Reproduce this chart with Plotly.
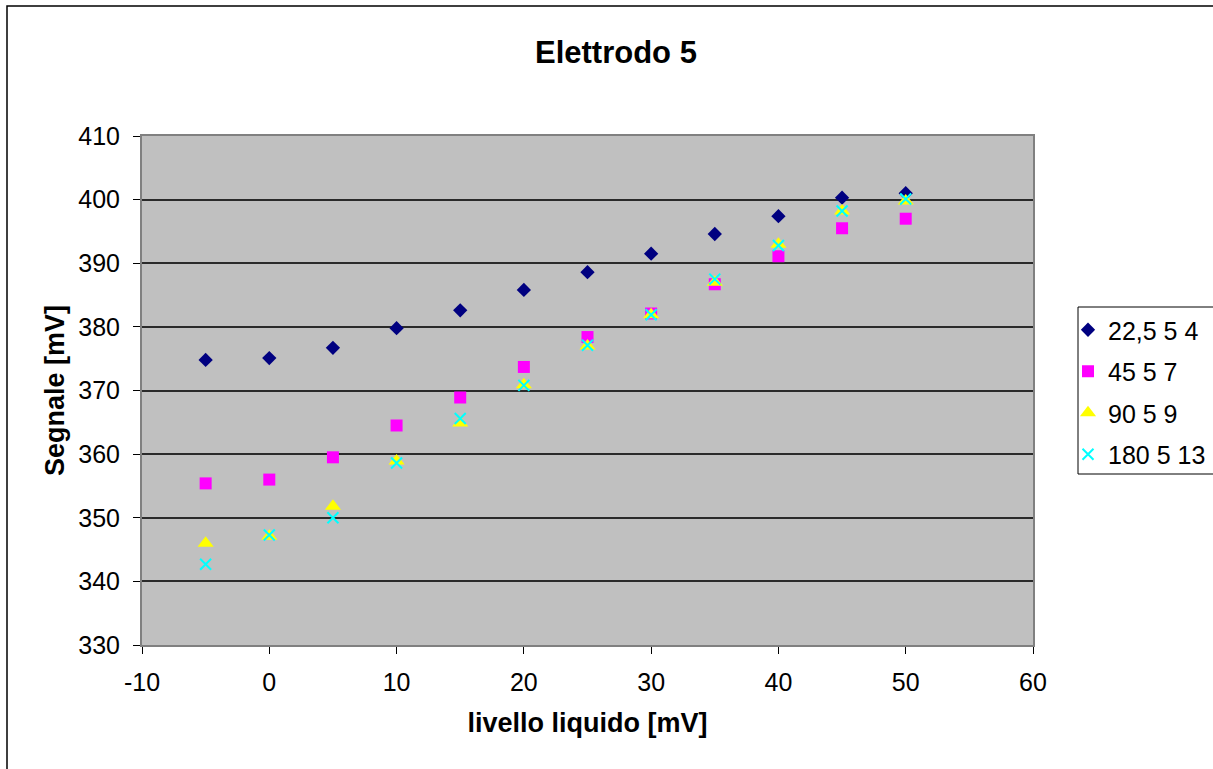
import plotly.graph_objects as go

x_vals = [-5, 0, 5, 10, 15, 20, 25, 30, 35, 40, 45, 50]
s1_name = "22,5 5 4"
s1 = [374.8, 375.1, 376.7, 379.8, 382.6, 385.8, 388.6, 391.5, 394.6, 397.4, 400.3, 401.0]
s2_name = "45 5 7"
s2 = [355.4, 356.0, 359.5, 364.5, 368.9, 373.7, 378.4, 382.1, 386.7, 391.1, 395.5, 397.0]
s3_name = "90 5 9"
s3 = [346.0, 347.1, 351.8, 358.9, 364.9, 370.9, 377.0, 381.9, 387.0, 393.0, 398.2, 399.8]
s4_name = "180 5 13"
s4 = [342.7, 347.3, 350.0, 358.6, 365.6, 370.8, 377.1, 381.9, 387.5, 392.8, 398.2, 400.1]

x_ticks = [-10, 0, 10, 20, 30, 40, 50, 60]
x_tick_labels = ["-10", "0", "10", "20", "30", "40", "50", "60"]
y_ticks = [330, 340, 350, 360, 370, 380, 390, 400, 410]

W, H = 1213, 769
L, R, T, B = 142, 1033, 136, 645

fig = go.Figure()
fig.add_trace(go.Scatter(x=x_vals, y=s1, mode="markers", name=s1_name, legendgroup="a",
                         marker=dict(symbol="diamond", size=11, color="#000080")))
fig.add_trace(go.Scatter(x=x_vals, y=s2, mode="markers", name=s2_name, legendgroup="b",
                         marker=dict(symbol="square", size=12, color="#FF00FF")))
fig.add_trace(go.Scatter(x=x_vals, y=s3, mode="markers", name=s3_name, legendgroup="c",
                         marker=dict(symbol="triangle-up", size=14, color="#FFFF00")))
fig.add_trace(go.Scatter(x=x_vals, y=s4, mode="markers", name=s4_name, legendgroup="d",
                         marker=dict(symbol="x-thin", size=11, color="#00FFFF",
                                     line=dict(color="#00FFFF", width=2))))

def px_x(p):
    return (p - L) / (R - L)

def px_y(p):
    return (B - p) / (B - T)

# outer chart border
fig.add_shape(type="rect", xref="paper", yref="paper",
              x0=px_x(7), x1=px_x(1240), y0=px_y(6), y1=px_y(800),
              line=dict(color="black", width=1.5), fillcolor="rgba(0,0,0,0)", layer="below")
# legend frame
fig.add_shape(type="rect", xref="paper", yref="paper",
              x0=px_x(1078), x1=px_x(1240), y0=px_y(307), y1=px_y(474),
              line=dict(color="black", width=1), fillcolor="white", layer="below")

font = "Liberation Sans, Arial, sans-serif"
fig.add_annotation(text="<b>Elettrodo 5</b>", xref="paper", yref="paper",
                   x=px_x(616), y=px_y(52), xanchor="center", yanchor="middle",
                   showarrow=False,
                   font=dict(family=font, size=31, color="black"))

fig.update_layout(
    width=W, height=H,
    margin=dict(l=L, r=W - R, t=T, b=H - B, autoexpand=False),
    paper_bgcolor="white",
    plot_bgcolor="#C0C0C0",
    font=dict(family=font, size=25, color="black"),
    showlegend=True,
    legend=dict(x=px_x(1068), y=px_y(307), xanchor="left", yanchor="top",
                borderwidth=0, bgcolor="rgba(0,0,0,0)",
                font=dict(family=font, size=25, color="black"),
                tracegroupgap=6),
    xaxis=dict(range=[-10, 60], tickvals=x_ticks, ticktext=x_tick_labels,
               showgrid=False, zeroline=False,
               showline=True, linecolor="#808080", linewidth=2, mirror=True,
               ticks="outside", ticklen=7, tickcolor="black", tickwidth=1,
               ticklabelstandoff=7,
               tickfont=dict(family=font, size=25, color="black"),
               title=dict(text="<b>livello liquido [mV]</b>", standoff=18,
                          font=dict(family=font, size=27, color="black"))),
    yaxis=dict(range=[330, 410], tickvals=y_ticks, showgrid=True, gridcolor="#2a2a2a", gridwidth=1.5,
               zeroline=False, showline=True, linecolor="#808080", linewidth=2, mirror=True,
               ticks="outside", ticklen=7, tickcolor="black", tickwidth=1,
               ticklabelstandoff=8,
               tickfont=dict(family=font, size=25, color="black"),
               title=dict(text="<b>Segnale [mV]</b>", standoff=6,
                          font=dict(family=font, size=27, color="black"))),
)

fig.write_html("out.html")
